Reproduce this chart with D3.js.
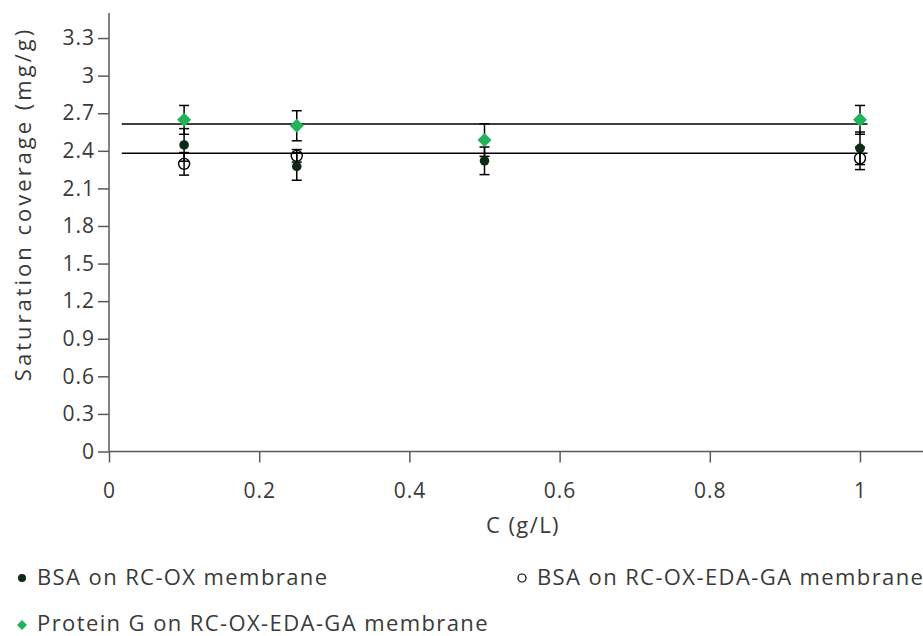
<!DOCTYPE html>
<html><head><meta charset="utf-8">
<script src="https://cdn.jsdelivr.net/npm/d3@7"></script>
<style>
html,body{margin:0;padding:0;background:#fff;}
svg text{font-family:"Open Sans",sans-serif;fill:#3a3a3a;}
</style></head>
<body><svg id="c" width="923" height="636"></svg>
<script>
const conc = [0.1, 0.25, 0.5, 1];
const bsaOx = [2.447, 2.275, 2.32, 2.42];
const bsaOxErr = [0.13, 0.11, 0.11, 0.13];
const bsaGa = [2.296, 2.36, null, 2.34];
const bsaGaErr = [0.09, 0.05, null, 0.09];
const protG = [2.647, 2.6, 2.486, 2.647];
const protGErr = [0.115, 0.12, 0.13, 0.115];
const refLines = [2.615, 2.38];
const refLineX = [0.017, 1.01];
const yTicks = [0, 0.3, 0.6, 0.9, 1.2, 1.5, 1.8, 2.1, 2.4, 2.7, 3, 3.3];
const xTicks = [0, 0.2, 0.4, 0.6, 0.8, 1];
const seriesNames = ["BSA on RC-OX membrane", "BSA on RC-OX-EDA-GA membrane", "Protein G on RC-OX-EDA-GA membrane"];

const svg = d3.select("#c");
const x = d3.scaleLinear().domain([0, 1]).range([109, 860]);
const y = d3.scaleLinear().domain([0, 3.5]).range([451.5, 13]);
const axisCol = "#595959";
const FS = 22, LS = "1.4px";

// y axis
const yAx = svg.append("g").attr("transform", "translate(109,0)")
  .call(d3.axisLeft(y).tickValues(yTicks).tickSize(11).tickPadding(3).tickFormat(d => d3.format("")(+d.toFixed(1))));
yAx.select(".domain").remove();
svg.append("line").attr("x1",109).attr("x2",109).attr("y1",y(3.5)).attr("y2",y(0)).attr("stroke",axisCol).attr("stroke-width",1.5);
yAx.selectAll(".tick line").attr("stroke", axisCol).attr("stroke-width",1.5);
yAx.selectAll("text").attr("font-size", 21).style("letter-spacing", "1px").style("font-family","Open Sans");

// x axis
const xAx = svg.append("g").attr("transform", "translate(0,451.5)")
  .call(d3.axisBottom(x).tickValues(xTicks).tickSize(11).tickPadding(21).tickFormat(d => d3.format("")(+d.toFixed(1))));
xAx.select(".domain").remove();
svg.append("line").attr("x1",109).attr("x2",923).attr("y1",y(0)).attr("y2",y(0)).attr("stroke",axisCol).attr("stroke-width",1.5);
xAx.selectAll(".tick line").attr("stroke", axisCol).attr("stroke-width",1.5);
xAx.selectAll("text").attr("font-size", 21).style("letter-spacing", "1px").style("font-family","Open Sans");

// axis titles
svg.append("text").attr("x", 523).attr("y", 533).attr("text-anchor","middle").attr("font-size",FS).style("letter-spacing",LS).text("C (g/L)");
svg.append("text").attr("transform","translate(31,204) rotate(-90)").attr("text-anchor","middle").attr("font-size",FS).style("letter-spacing","3px").text("Saturation coverage (mg/g)");

// reference lines
svg.selectAll(".ref").data(refLines).enter().append("line")
  .attr("x1", x(refLineX[0])).attr("x2", x(refLineX[1]))
  .attr("y1", d => y(d)).attr("y2", d => y(d))
  .attr("stroke", "#000").attr("stroke-width", 1.5);

function pts(vals, errs){ return conc.map((c,i)=>({c, v: vals[i], e: errs[i]})).filter(d=>d.v!=null); }
const all = [pts(bsaOx,bsaOxErr), pts(bsaGa,bsaGaErr), pts(protG,protGErr)];

// error bars
const eb = svg.append("g").attr("stroke","#000").attr("stroke-width",1.5);
all.forEach(s => s.forEach(d => {
  eb.append("line").attr("x1",x(d.c)).attr("x2",x(d.c)).attr("y1",y(d.v+d.e)).attr("y2",y(d.v-d.e));
  [d.v+d.e, d.v-d.e].forEach(v => eb.append("line").attr("x1",x(d.c)-5).attr("x2",x(d.c)+5).attr("y1",y(v)).attr("y2",y(v)));
}));

const dark = "#0d2a16", green = "#22b35a";
const diamond = (cx, cy, w, h) => `M${cx},${cy-h}L${cx+w},${cy}L${cx},${cy+h}L${cx-w},${cy}Z`;
// markers
svg.selectAll(".m0").data(all[0]).enter().append("circle").attr("cx",d=>x(d.c)).attr("cy",d=>y(d.v)).attr("r",4.8).attr("fill",dark);
svg.selectAll(".m1").data(all[1]).enter().append("circle").attr("cx",d=>x(d.c)).attr("cy",d=>y(d.v)).attr("r",5.5).attr("fill","none").attr("stroke","#000").attr("stroke-width",1.4);
svg.selectAll(".m2").data(all[2]).enter().append("path").attr("d",d=>diamond(x(d.c),y(d.v),7,7)).attr("fill",green);

// legend
const lg = svg.append("g");
lg.append("circle").attr("cx",22).attr("cy",578).attr("r",4).attr("fill",dark);
lg.append("text").attr("x",37).attr("y",585).attr("font-size",FS).style("letter-spacing",LS).text(seriesNames[0]);
lg.append("circle").attr("cx",522).attr("cy",578).attr("r",4).attr("fill","none").attr("stroke","#000").attr("stroke-width",1.2);
lg.append("text").attr("x",537).attr("y",585).attr("font-size",FS).style("letter-spacing",LS).text(seriesNames[1]);
lg.append("path").attr("d",diamond(22,625,5,5)).attr("fill",green);
lg.append("text").attr("x",37).attr("y",631).attr("font-size",FS).style("letter-spacing",LS).text(seriesNames[2]);
</script></body></html>
